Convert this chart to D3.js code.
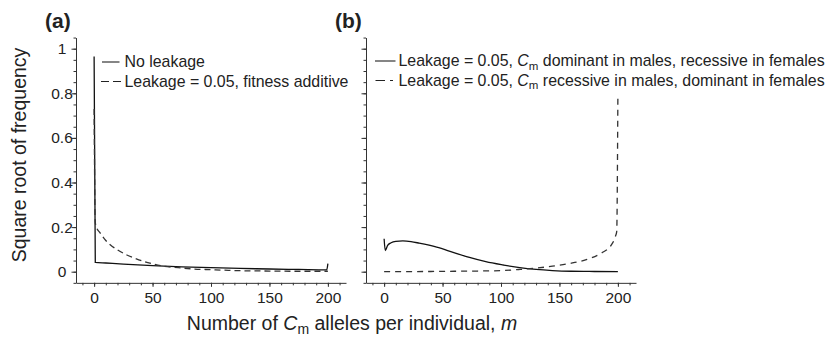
<!DOCTYPE html>
<html>
<head>
<meta charset="utf-8">
<script src="https://cdn.jsdelivr.net/npm/d3@7"></script>
<style>
  body { margin:0; background:#fff; }
  svg text { font-family: "Liberation Sans", Arial, sans-serif; fill:#222; }
  .axis path, .axis line { stroke:#333; stroke-width:1; }
</style>
</head>
<body>
<div id="chart"></div>
<script>
const width = 827, height = 339;

// panel (a)
const aNoLeakM = [0, 1, 10, 25, 50, 75, 100, 125, 150, 175, 199, 200];
const aNoLeakV = [0.965, 0.042, 0.039, 0.034, 0.027, 0.022, 0.018, 0.015, 0.012, 0.010, 0.008, 0.036];
const aAddM = [0, 1, 2, 5, 10, 14, 20, 28, 35, 43, 50, 57, 72, 86, 100, 115, 130, 150, 175, 200];
const aAddV = [0.73, 0.22, 0.2, 0.175, 0.14, 0.12, 0.098, 0.075, 0.06, 0.045, 0.035, 0.027, 0.018, 0.012, 0.009, 0.006, 0.004, 0.003, 0.002, 0.002];

// panel (b)
const bDomM = [0, 1, 3, 6, 10, 16, 23, 30, 45, 59, 73, 87, 102, 116, 130, 144, 160, 180, 200];
const bDomV = [0.148, 0.095, 0.118, 0.13, 0.136, 0.138, 0.135, 0.128, 0.11, 0.087, 0.064, 0.045, 0.03, 0.018, 0.01, 0.005, 0.002, 0.001, 0.0005];
const bRecM = [0, 20, 40, 60, 80, 100, 116, 130, 144, 159, 173, 187, 194, 198, 199, 200];
const bRecV = [0, 0.0005, 0.001, 0.002, 0.003, 0.005, 0.01, 0.016, 0.025, 0.037, 0.054, 0.087, 0.117, 0.16, 0.18, 0.79];

const xMajor = [0, 50, 100, 150, 200];
const xMinor = d3.range(-10, 211, 10);
const yMajor = [0, 0.2, 0.4, 0.6, 0.8, 1];
const yMinor = d3.range(-0.05, 1.06, 0.05);

const svg = d3.select("#chart").append("svg")
  .attr("width", width).attr("height", height);

const y = d3.scaleLinear().domain([-0.05, 1.05]).range([282.85, 37.55]);

function zip(ms, vs){ return ms.map((m,i)=>({m:m, v:vs[i]})); }

function panel(x0, x1, label, series, legend, showYLabels){
  const x = d3.scaleLinear().domain([-15.5, 215.5]).range([x0, x1]);
  const g = svg.append("g");

  // x axis
  g.append("g").attr("class","axis")
    .attr("transform",`translate(0,${y(-0.05)})`)
    .call(d3.axisBottom(x).tickValues(xMinor).tickSize(2.5).tickSizeOuter(0).tickFormat(""));
  g.append("g").attr("class","axis")
    .attr("transform",`translate(0,${y(-0.05)})`)
    .call(d3.axisBottom(x).tickValues(xMajor).tickSize(4).tickSizeOuter(0).tickPadding(5))
    .call(a=>a.select(".domain").remove())
    .selectAll("text").style("font-size","15.5px").attr("fill","#222");

  // y axis
  g.append("g").attr("class","axis")
    .attr("transform",`translate(${x0},0)`)
    .call(d3.axisLeft(y).tickValues(yMinor).tickSize(2.5).tickSizeOuter(0).tickFormat(""));
  const ya = g.append("g").attr("class","axis")
    .attr("transform",`translate(${x0},0)`)
    .call(d3.axisLeft(y).tickValues(yMajor).tickSize(4.5).tickSizeOuter(0).tickFormat(d3.format("")))
    .call(a=>a.select(".domain").remove());
  ya.selectAll("text")
    .style("font-size","15.5px").attr("fill","#222")
    .attr("text-anchor","middle").attr("x",-14)
    .style("display", showYLabels ? null : "none");

  const line = d3.line().x(d=>x(d.m)).y(d=>y(d.v)).curve(d3.curveMonotoneX);
  series.forEach(s=>{
    g.append("path").datum(zip(s.m, s.v))
      .attr("d", line)
      .attr("fill","none")
      .attr("stroke", s.color)
      .attr("stroke-width", 1.3)
      .attr("stroke-dasharray", s.dash);
  });

  // panel label
  svg.append("text").attr("x", x0 - 31).attr("y", 28)
    .style("font-size","21px").style("font-weight","bold").text(label);

  // legend
  legend.forEach((l,i)=>{
    const by = legend.base + i*19.5;
    g.append("line")
      .attr("x1", l.x1).attr("x2", l.x2)
      .attr("y1", by-5).attr("y2", by-5)
      .attr("stroke", "#222").attr("stroke-width", 1.1)
      .attr("stroke-dasharray", l.dash);
    const t = g.append("text").attr("x", l.tx).attr("y", by).style("font-size","15.9px");
    l.parts.forEach(p=>{
      const ts = t.append("tspan").text(p.t);
      if(p.it) ts.style("font-style","italic");
      if(p.sub) ts.style("font-size","11.5px").attr("dy", 3.5);
      if(p.up) ts.attr("dy", -3.5);
    });
  });
}

const legA = [
  {x1:102, x2:119.5, tx:124.5, dash:null, parts:[{t:"No leakage"}]},
  {x1:101, x2:121.5, tx:124.5, dash:"8,4", parts:[{t:"Leakage = 0.05, fitness additive"}]}
];
legA.base = 67;

const legB = [
  {x1:375, x2:395.5, tx:398.5, dash:null, parts:[{t:"Leakage = 0.05, "},{t:"C",it:true},{t:"m",sub:true},{t:" dominant in males, recessive in females",up:true}]},
  {x1:375.5, x2:393.5, tx:398.5, dash:"9.5,5,3,50", parts:[{t:"Leakage = 0.05, "},{t:"C",it:true},{t:"m",sub:true},{t:" recessive in males, dominant in females",up:true}]}
];
legB.base = 66;

panel(76, 346, "(a)", [
  {m:aNoLeakM, v:aNoLeakV, color:"#111", dash:null},
  {m:aAddM, v:aAddV, color:"#333", dash:"6,4"}
], legA, true);

panel(366, 636, "(b)", [
  {m:bDomM, v:bDomV, color:"#111", dash:null},
  {m:bRecM, v:bRecV, color:"#333", dash:"6,5"}
], legB, false);

// axis titles
svg.append("text")
  .attr("transform","translate(26,155) rotate(-90)")
  .attr("text-anchor","middle")
  .style("font-size","19.5px")
  .text("Square root of frequency");

const xt = svg.append("text").attr("x", 352).attr("y", 330)
  .attr("text-anchor","middle").style("font-size","19.5px");
xt.append("tspan").text("Number of ");
xt.append("tspan").text("C").style("font-style","italic");
xt.append("tspan").text("m").style("font-size","14px").attr("dy",4);
xt.append("tspan").text(" alleles per individual, ").attr("dy",-4);
xt.append("tspan").text("m").style("font-style","italic");
</script>
</body>
</html>
